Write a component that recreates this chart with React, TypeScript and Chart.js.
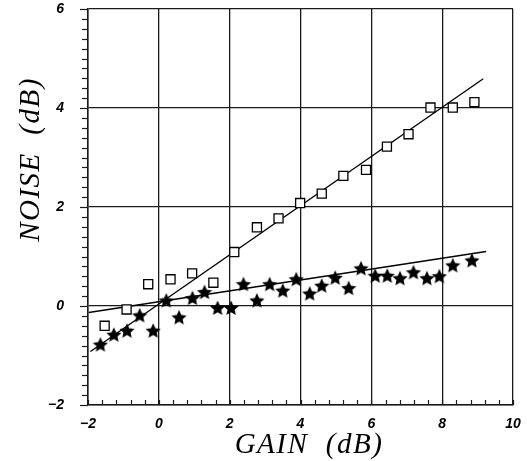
import React, { useEffect, useRef } from 'react';
import { Chart, registerables } from 'chart.js';

Chart.register(...registerables);

// ---- data ----
const squareX = [-1.53, -0.91, -0.30, 0.33, 0.94, 1.54, 2.13, 2.77, 3.38, 3.99, 4.60, 5.21, 5.85, 6.44, 7.05, 7.67, 8.30, 8.91];
const squareY = [-0.40, -0.07, 0.44, 0.54, 0.66, 0.47, 1.09, 1.59, 1.77, 2.08, 2.27, 2.63, 2.75, 3.22, 3.47, 4.01, 4.01, 4.12];

const starX = [-1.65, -1.27, -0.90, -0.54, -0.16, 0.21, 0.57, 0.95, 1.29, 1.66, 2.04, 2.39, 2.77, 3.13, 3.50, 3.88, 4.26, 4.60, 4.98, 5.36, 5.71, 6.11, 6.45, 6.81, 7.19, 7.57, 7.92, 8.30, 8.84];
const starY = [-0.78, -0.58, -0.50, -0.19, -0.50, 0.11, -0.23, 0.16, 0.28, -0.04, -0.04, 0.44, 0.11, 0.44, 0.31, 0.54, 0.25, 0.41, 0.57, 0.36, 0.76, 0.61, 0.61, 0.56, 0.68, 0.56, 0.60, 0.82, 0.92];

const squareFitX = [-1.93, 9.16];
const squareFitY = [-0.92, 4.59];
const starFitX = [-1.98, 9.24];
const starFitY = [-0.13, 1.10];

const xMin = -2;
const xMax = 10;
const yMin = -2;
const yMax = 6;
const majorStep = 2;
const xMinorStep = 0.4;
const yMinorStep = 0.2;

const xTitle = 'GAIN  (dB)';
const yTitle = 'NOISE  (dB)';

function pts(xs: number[], ys: number[]) {
  return xs.map((x, i) => ({ x, y: ys[i] }));
}

function makeStar(size: number) {
  const c = document.createElement('canvas');
  c.width = size;
  c.height = size;
  const ctx = c.getContext('2d')!;
  const cx = size / 2;
  const cy = size / 2 + 0.6;
  const R = size / 2;
  const r = R * 0.47;
  ctx.beginPath();
  for (let i = 0; i < 10; i++) {
    const a = -Math.PI / 2 + (i * Math.PI) / 5;
    const rad = i % 2 === 0 ? R : r;
    ctx.lineTo(cx + rad * Math.cos(a), cy + rad * Math.sin(a));
  }
  ctx.closePath();
  ctx.fillStyle = '#000';
  ctx.fill();
  return c;
}

const fmt = (v: number) => (v < 0 ? '\u2212' + Math.abs(v) : String(v));

const tickPlugin = {
  id: 'minorTicks',
  afterDraw(chart: any) {
    const { ctx, chartArea, scales } = chart;
    const x = scales.x;
    const y = scales.y;
    ctx.save();
    ctx.strokeStyle = '#1a1a1a';
    ctx.lineWidth = 1.2;
    const ny = Math.round((yMax - yMin) / yMinorStep);
    for (let i = 0; i <= ny; i++) {
      const v = yMin + i * yMinorStep;
      const py = Math.round(y.getPixelForValue(v)) + 0.5;
      const major = i % Math.round(majorStep / yMinorStep) === 0;
      const len = major ? 8 : 6;
      ctx.beginPath();
      ctx.moveTo(chartArea.left - len, py);
      ctx.lineTo(chartArea.left, py);
      ctx.stroke();
    }
    const nx = Math.round((xMax - xMin) / xMinorStep);
    for (let i = 0; i <= nx; i++) {
      const v = xMin + i * xMinorStep;
      const px = Math.round(x.getPixelForValue(v)) + 0.5;
      ctx.beginPath();
      ctx.moveTo(px, chartArea.bottom);
      ctx.lineTo(px, chartArea.bottom - 5);
      ctx.stroke();
    }
    // axis titles
    ctx.fillStyle = '#000';
    ctx.font = 'italic 29px "Liberation Serif", serif';
    try { (ctx as any).letterSpacing = '1.5px'; } catch (e) { /* ignore */ }
    ctx.textBaseline = 'alphabetic';
    ctx.textAlign = 'center';
    ctx.fillText(xTitle, chartArea.left + (chartArea.right - chartArea.left) * 0.52, 453);
    ctx.translate(39, chartArea.top + (chartArea.bottom - chartArea.top) * 0.38);
    ctx.rotate(-Math.PI / 2);
    ctx.fillText(yTitle, 0, 0);
    ctx.restore();
  },
};

export default function App() {
  const ref = useRef<HTMLCanvasElement | null>(null);

  useEffect(() => {
    document.body.style.margin = '0';
    const canvas = ref.current!;
    const star = makeStar(16);
    const font = { family: '"Liberation Sans", Arial, sans-serif', size: 14, weight: 'bold' as const, style: 'italic' as const };
    const gridColor = '#1a1a1a';
    const chart = new Chart(canvas, {
      type: 'scatter',
      data: {
        datasets: [
          {
            label: 'squares',
            data: pts(squareX, squareY),
            pointStyle: 'rect',
            pointRadius: 6.4,
            pointBorderWidth: 1.3,
            pointBorderColor: '#000',
            pointBackgroundColor: '#fff',
            showLine: false,
            order: 0,
          },
          {
            label: 'stars',
            data: pts(starX, starY),
            pointStyle: star as any,
            pointRadius: 7,
            showLine: false,
            order: 1,
          },
          {
            label: 'squareFit',
            data: pts(squareFitX, squareFitY),
            showLine: true,
            borderColor: '#000',
            borderWidth: 1.4,
            pointRadius: 0,
            order: 2,
          },
          {
            label: 'starFit',
            data: pts(starFitX, starFitY),
            showLine: true,
            borderColor: '#000',
            borderWidth: 1.4,
            pointRadius: 0,
            order: 3,
          },
        ],
      },
      options: {
        animation: false,
        responsive: false,
        events: [],
        layout: { padding: { top: 9, right: 14, left: 0, bottom: 0 } },
        plugins: { legend: { display: false }, tooltip: { enabled: false } },
        scales: {
          x: {
            type: 'linear',
            min: xMin,
            max: xMax,
            ticks: { stepSize: majorStep, callback: (v: any) => fmt(Number(v)), font, color: '#000', padding: 0, maxRotation: 0 },
            grid: { color: gridColor, lineWidth: 1.3, drawTicks: true, tickLength: 11, tickColor: 'rgba(0,0,0,0)' },
            border: { color: gridColor, width: 1.5 },
            afterFit: (s: any) => { s.height = 56; },
          },
          y: {
            type: 'linear',
            min: yMin,
            max: yMax,
            ticks: { stepSize: majorStep, callback: (v: any) => fmt(Number(v)), font, color: '#000', padding: 0 },
            grid: { color: gridColor, lineWidth: 1.3, drawTicks: true, tickLength: 24, tickColor: 'rgba(0,0,0,0)' },
            border: { color: gridColor, width: 1.5 },
            afterFit: (s: any) => { s.width = 88; },
          },
        },
      },
      plugins: [tickPlugin],
    });
    return () => chart.destroy();
  }, []);

  return (
    <div style={{ width: 527, height: 461, background: '#fff' }}>
      <canvas ref={ref} width={527} height={461} style={{ display: 'block' }} />
    </div>
  );
}
